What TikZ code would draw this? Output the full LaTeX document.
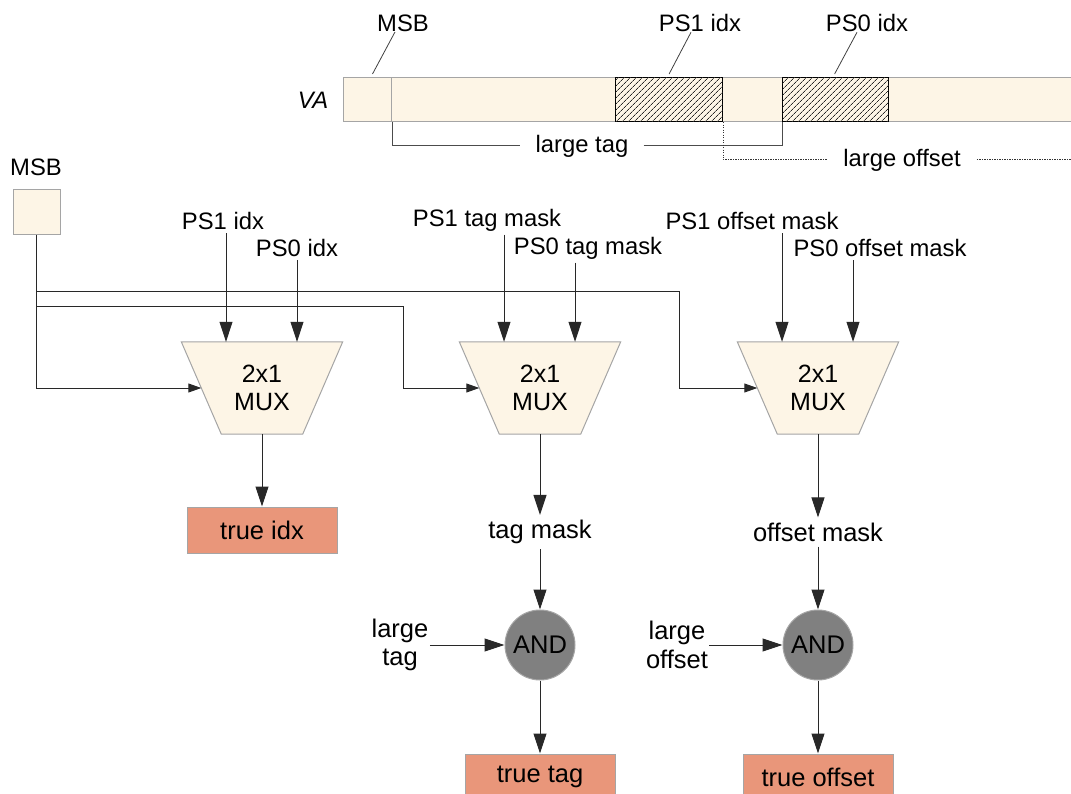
\documentclass[tikz,border=0pt]{standalone}
\usepackage{fontspec}
\setmainfont{Liberation Sans}
\usetikzlibrary{arrows.meta,patterns.meta,calc,backgrounds}

\definecolor{cream}{RGB}{253,245,230}
\definecolor{salmonbox}{RGB}{233,150,122}
\definecolor{andgray}{RGB}{128,128,128}
\definecolor{edgegray}{RGB}{165,165,165}
\definecolor{wire}{RGB}{40,40,40}

\tikzset{
  txt/.style={inner sep=0.333em},
  bigtxt/.style={inner sep=0.333em, font=\fontsize{25.5}{28.5}\selectfont},
  cell/.style={draw=edgegray, fill=cream, line width=1pt, inner sep=0pt},
  hatchbox/.style={draw=black, fill=cream, line width=1.2pt, inner sep=0pt,
    postaction={pattern={Lines[angle=45, distance=4pt, line width=0.7pt]},
      pattern color=black!85}},
  muxbox/.style={minimum width=161pt, minimum height=92pt, inner sep=0pt,
    align=center, text depth=0pt, font=\fontsize{25}{27.5}\selectfont},
  muxshape/.style={draw=edgegray, fill=cream, line width=1pt},
  resultbox/.style={draw=edgegray, fill=salmonbox, line width=1pt,
    minimum width=150pt, minimum height=46pt, inner sep=0pt,
    font=\fontsize{25.5}{28.5}\selectfont},
  andgate/.style={circle, draw=black!35, fill=andgray, line width=1pt,
    minimum size=70pt, inner sep=0pt, font=\fontsize{25.5}{28.5}\selectfont},
  leader/.style={draw=black!75, line width=0.8pt},
  bracket/.style={draw=black!70, line width=1pt},
  dotline/.style={draw=black!80, line width=1pt, dash pattern=on 1.2pt off 1.3pt},
  wireline/.style={draw=wire, line width=1pt},
  bigarrow/.style={wireline, -{Triangle[length=20pt,width=13pt]}},
  smallarrow/.style={wireline, -{Triangle[length=13pt,width=9pt]}},
}

\begin{document}
\begin{tikzpicture}[x=1pt, y=-1pt, font=\fontsize{23.8}{27}\selectfont]
\useasboundingbox (0,0) rectangle (1071,794);

% ---------------- virtual address bar ----------------
\node[cell, anchor=north west, minimum width=740pt, minimum height=44pt] (va) at (343,77) {};
\node[cell, anchor=north west, minimum width=48pt, minimum height=44pt] (msbcell) at (343,77) {};
\node[hatchbox, anchor=north west, minimum width=107pt, minimum height=44pt] (h1) at (615,77) {};
\node[hatchbox, anchor=north west, minimum width=106pt, minimum height=44pt] (h0) at (782,77) {};
\node[txt, font=\fontsize{23.8}{27}\selectfont\itshape] (valbl) at (313,100) {VA};

\node[txt] (lmsb) at (403,23) {MSB};
\node[txt] (lps1) at (700,23) {PS1 idx};
\node[txt] (lps0) at (867,23) {PS0 idx};
\draw[leader] ([xshift=-8pt,yshift=3pt]lmsb.south) -- ([xshift=5pt,yshift=3pt]msbcell.north);
\draw[leader] ([xshift=-9pt,yshift=3pt]lps1.south) -- ([yshift=3pt]h1.north);
\draw[leader] ([xshift=-10pt,yshift=3pt]lps0.south) -- ([xshift=-1pt,yshift=3pt]h0.north);

\node[txt, inner xsep=15pt] (ltag) at (582,146) {large tag};
\draw[bracket] (msbcell.south east) |- (ltag.west);
\draw[bracket] (ltag.east) -| (h0.south west);

\node[txt, inner xsep=16pt] (loff) at (902,160) {large offset};
\coordinate (offend) at (1075,160);
\draw[dotline] (h1.south east) |- (loff.west);
\draw[dotline] (loff.east) -- (offend);

% ---------------- MSB selector ----------------
\node[txt] (msblbl) at (36,167) {MSB};
\node[cell, minimum width=47pt, minimum height=45pt] (msb) at (36.5,212) {};

% ---------------- multiplexers ----------------
\node[muxbox] (m1) at (262,388) {2x1\\MUX};
\node[muxbox] (m2) at (540,388) {2x1\\MUX};
\node[muxbox] (m3) at (818,388) {2x1\\MUX};
\begin{scope}[on background layer]
  \foreach \m in {m1,m2,m3}
    \draw[muxshape] (\m.north west) -- (\m.north east)
      -- ([xshift=-40pt]\m.south east) -- ([xshift=40pt]\m.south west) -- cycle;
\end{scope}
\foreach \m in {m1,m2,m3} {
  \coordinate (\m in) at ([xshift=20pt]\m.west);
  \coordinate (\m a) at ([xshift=-36pt]\m.north);
  \coordinate (\m b) at ([xshift=35pt]\m.north);
}

% select lines from the MSB box
\draw[smallarrow] (msb.south) |- (m1in);
\draw[smallarrow] (msb.south |- 0,307) -| ([xshift=-76pt]m2in) -- (m2in);
\draw[smallarrow] (msb.south |- 0,292) -| ([xshift=-78pt]m3in) -- (m3in);

% data inputs
\node[txt] (i1) at (223,221) {PS1 idx};
\node[txt] (i0) at (297,248) {PS0 idx};
\node[txt] (t1) at (487,220) {PS1 tag mask};
\node[txt] (t0) at (588,248) {PS0 tag mask};
\node[txt] (o1) at (752,221) {PS1 offset mask};
\node[txt] (o0) at (880,248) {PS0 offset mask};
\draw[bigarrow] (m1a |- i1.south) -- (m1a);
\draw[bigarrow] (m1b |- i0.south) -- (m1b);
\draw[bigarrow] (m2a |- t1.south) -- (m2a);
\draw[bigarrow] (m2b |- t0.south) -- (m2b);
\draw[bigarrow] (m3a |- o1.south) -- (m3a);
\draw[bigarrow] (m3b |- o0.south) -- (m3b);

% ---------------- outputs ----------------
\node[resultbox] (tidx) at (262,530) {true idx};
\draw[bigarrow] (m1.south) -- (tidx.north);

\node[bigtxt, inner sep=5pt] (tmask) at (540,532) {tag mask};
\node[bigtxt, inner sep=5pt] (omask) at (818,532) {offset mask};
\draw[bigarrow] (m2.south) -- (tmask.north);
\draw[bigarrow] (m3.south) -- (omask.north);

\node[andgate] (and1) at (540,645) {AND};
\node[andgate] (and2) at (818,645) {AND};
\draw[bigarrow] (tmask.south) -- (and1.north);
\draw[bigarrow] (omask.south) -- (and2.north);

\node[bigtxt, align=center] (ltag2) at (400,645) {large\\tag};
\node[bigtxt, align=center] (loff2) at (677,645) {large\\offset};
\draw[bigarrow] ([xshift=-2pt]ltag2.east |- and1.west) -- (and1.west);
\draw[bigarrow] ([xshift=-2pt]loff2.east |- and2.west) -- (and2.west);

\node[resultbox] (ttag) at (540,777) {true tag};
\node[resultbox] (toff) at (818,777) {true offset};
\draw[bigarrow] (and1.south) -- (ttag.north);
\draw[bigarrow] (and2.south) -- (toff.north);
\end{tikzpicture}
\end{document}
